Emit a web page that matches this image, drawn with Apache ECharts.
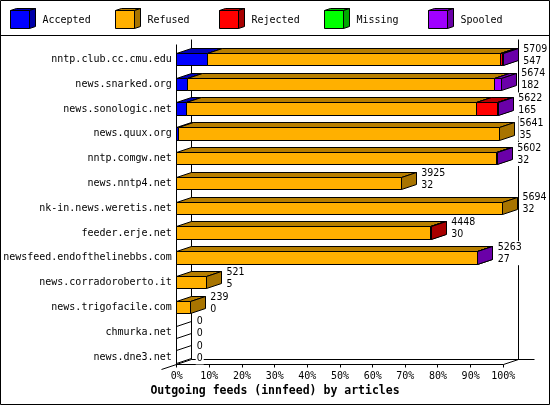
<!DOCTYPE html>
<html lang="en">
  <head>
    <meta charset="UTF-8" />
    <title>innfeed by articles</title>
    <script src="https://cdn.jsdelivr.net/npm/echarts@6/dist/echarts.min.js"></script>
    <style>
      html, body { margin: 0; padding: 0; background: #fff; }
      #chart { width: 550px; height: 405px; }
    </style>
  </head>
  <body>
    <div id="chart"></div>
    <script>
      // feeds, top to bottom
      var categories = [
        'nntp.club.cc.cmu.edu', 'news.snarked.org', 'news.sonologic.net', 'news.quux.org',
        'nntp.comgw.net', 'news.nntp4.net', 'nk-in.news.weretis.net', 'feeder.erje.net',
        'newsfeed.endofthelinebbs.com', 'news.corradoroberto.it', 'news.trigofacile.com',
        'chmurka.net', 'news.dne3.net'
      ];
      // article counts per status
      var accepted = [547, 182, 165, 35, 0, 0, 0, 0, 0, 0, 0, 0, 0];
      var refused = [5117, 5375, 5069, 5606, 5592, 3925, 5694, 4438, 5253, 521, 239, 0, 0];
      var rejected = [35, 0, 378, 0, 0, 0, 0, 10, 0, 0, 0, 0, 0];
      var missing = [0, 0, 0, 0, 0, 0, 0, 0, 0, 0, 0, 0, 0];
      var spooled = [10, 117, 10, 0, 10, 0, 0, 0, 10, 0, 0, 0, 0];
      // the two numbers printed at the end of each bar
      var offeredLabel = [5709, 5674, 5622, 5641, 5602, 3925, 5694, 4448, 5263, 521, 239, 0, 0];
      var acceptedLabel = [547, 182, 165, 35, 32, 32, 32, 30, 27, 5, 0, 0, 0];

      var statusNames = ['Accepted', 'Refused', 'Rejected', 'Missing', 'Spooled'];
      var statusColors = ['#0000ff', '#ffb000', '#ff0000', '#00ff00', '#a000ff'];
      var statusValues = [accepted, refused, rejected, missing, spooled];

      var mono = '"DejaVu Sans Mono", monospace';
      var narrow = '"Liberation Sans Narrow", "DejaVu Sans Condensed", "DejaVu Sans Mono", monospace';
      var DX = 15;
      var DY = 5;
      var maxTotal = Math.max.apply(null, offeredLabel);

      function shade(hex, f) {
        var n = parseInt(hex.slice(1), 16);
        var r = Math.round(((n >> 16) & 255) * f);
        var g = Math.round(((n >> 8) & 255) * f);
        var b = Math.round((n & 255) * f);
        return 'rgb(' + r + ',' + g + ',' + b + ')';
      }
      function snap(v) {
        return Math.round(v - 0.5) + 0.5;
      }
      function ln(x1, y1, x2, y2) {
        return {
          type: 'line',
          shape: { x1: x1, y1: y1, x2: x2, y2: y2 },
          style: { stroke: '#000', lineWidth: 1 }
        };
      }
      function box(x1, x2, yt, yb, color) {
        var edge = { stroke: '#000', lineWidth: 1 };
        return [
          {
            type: 'polygon',
            shape: { points: [[x1, yt], [x2, yt], [x2 + DX, yt - DY], [x1 + DX, yt - DY]] },
            style: Object.assign({ fill: shade(color, 0.72) }, edge)
          },
          {
            type: 'polygon',
            shape: { points: [[x2, yt], [x2, yb], [x2 + DX, yb - DY], [x2 + DX, yt - DY]] },
            style: Object.assign({ fill: shade(color, 0.66) }, edge)
          },
          {
            type: 'rect',
            shape: { x: x1, y: yt, width: x2 - x1, height: yb - yt },
            style: Object.assign({ fill: color }, edge)
          }
        ];
      }

      // stacked segments, as percent of the largest feed
      function segmentData(k) {
        var rows = [];
        for (var i = 0; i < categories.length; i += 1) {
          var start = 0;
          for (var j = 0; j < k; j += 1) start += statusValues[j][i];
          var v = statusValues[k][i];
          if (v > 0) rows.push([(start / maxTotal) * 100, ((start + v) / maxTotal) * 100, i]);
        }
        return rows;
      }

      var chart = echarts.init(document.getElementById('chart'));

      var series = [];

      // 3d frame: front/back walls and floor
      series.push({
        type: 'custom',
        silent: true,
        data: [[0]],
        renderItem: function (params, api) {
          var cs = params.coordSys;
          var x0 = snap(cs.x);
          var x1 = snap(cs.x + cs.width);
          var top = snap(cs.y - 2.4);
          var floor = snap(cs.y + cs.height - 4.8);
          var kids = [
            ln(x0, top, x0, floor),
            ln(x0 + DX, top - DY, x0 + DX, floor - DY),
            ln(x1 + DX, top - DY, x1 + DX, floor - DY),
            ln(x0 + DX, floor - DY, x1 + DX + 16, floor - DY),
            ln(x0, floor, x1, floor),
            ln(x1, floor, x1 + DX, floor - DY),
            ln(x0 - DX, floor + DY, x0 + DX, floor - DY)
          ];
          for (var p = 0; p <= 100; p += 10) {
            var tx = snap(api.coord([p, 0])[0]);
            kids.push(ln(tx, floor, tx, floor + 3));
          }
          return { type: 'group', children: kids };
        }
      });

      statusNames.forEach(function (name, k) {
        series.push({
          name: name,
          type: 'custom',
          encode: { x: [0, 1], y: 2 },
          data: segmentData(k),
          renderItem: function (params, api) {
            var a = api.coord([api.value(0), api.value(2)]);
            var b = api.coord([api.value(1), api.value(2)]);
            var half = api.size([0, 1])[1] * 0.25;
            var yt = snap(a[1] - half);
            var yb = snap(a[1] + half);
            return { type: 'group', children: box(snap(a[0]), snap(b[0]), yt, yb, statusColors[k]) };
          }
        });
      });

      // value labels (offered / accepted) and empty boxes for idle feeds
      series.push({
        type: 'custom',
        silent: true,
        encode: { x: 0, y: 1 },
        data: offeredLabel.map(function (v, i) {
          return [(v / maxTotal) * 100, i];
        }),
        renderItem: function (params, api) {
          var i = params.dataIndex;
          var c = api.coord([api.value(0), api.value(1)]);
          var half = api.size([0, 1])[1] * 0.25;
          var kids = [];
          if (offeredLabel[i] === 0) {
            var x = snap(c[0]);
            var yt = snap(c[1] - half);
            var yb = snap(c[1] + half);
            kids.push(ln(x, yt, x + DX, yt - DY));
            kids.push(ln(x, yb, x + DX, yb - DY));
          }
          kids.push({
            type: 'text',
            x: c[0] + 19,
            y: c[1] - 4.7,
            style: {
              text: offeredLabel[i] + '\n' + acceptedLabel[i],
              font: '10.5px ' + narrow,
              lineHeight: 12,
              fill: '#000',
              align: 'left',
              verticalAlign: 'middle',
              backgroundColor: '#fff',
              padding: [0, 1, 0, 1]
            }
          });
          return { type: 'group', children: kids };
        }
      });

      // legend cubes across the top strip
      var legendGraphics = [];
      statusNames.forEach(function (name, k) {
        var gx = 10 + k * 104.6;
        var c = statusColors[k];
        var edge = { stroke: '#000', lineWidth: 1 };
        legendGraphics.push({
          type: 'group',
          x: Math.round(gx),
          y: 0,
          children: [
            {
              type: 'polygon',
              shape: { points: [[0.5, 10.5], [19.5, 10.5], [25.5, 8.5], [6.5, 8.5]] },
              style: Object.assign({ fill: shade(c, 0.72) }, edge)
            },
            {
              type: 'polygon',
              shape: { points: [[19.5, 10.5], [19.5, 28.5], [25.5, 26.5], [25.5, 8.5]] },
              style: Object.assign({ fill: shade(c, 0.66) }, edge)
            },
            {
              type: 'rect',
              shape: { x: 0.5, y: 10.5, width: 19, height: 18 },
              style: Object.assign({ fill: c }, edge)
            },
            {
              type: 'text',
              x: 32.5,
              y: 20,
              style: { text: name, font: '10px ' + mono, fill: '#000', verticalAlign: 'middle' }
            }
          ]
        });
      });
      legendGraphics.push({
        type: 'line',
        shape: { x1: 0, y1: 35.5, x2: 550, y2: 35.5 },
        style: { stroke: '#000', lineWidth: 1 }
      });
      legendGraphics.push({
        type: 'rect',
        shape: { x: 0.5, y: 0.5, width: 549, height: 404 },
        style: { fill: 'none', stroke: '#000', lineWidth: 1 }
      });

      chart.setOption({
        animation: false,
        backgroundColor: '#fff',
        title: {
          text: 'Outgoing feeds (innfeed) by articles',
          left: 'center',
          top: 385,
          padding: 0,
          textStyle: { fontFamily: mono, fontSize: 11.5, fontWeight: 'bold', color: '#000' }
        },
        grid: { left: 176.7, right: 46.7, top: 47.1, bottom: 35.5 },
        xAxis: {
          type: 'value',
          min: 0,
          max: 100,
          interval: 10,
          axisLine: { show: false },
          axisTick: { show: false },
          splitLine: { show: false },
          axisLabel: { formatter: '{value}%', margin: 2, fontFamily: mono, fontSize: 10, color: '#000' }
        },
        yAxis: {
          type: 'category',
          inverse: true,
          data: categories,
          axisLine: { show: false },
          axisTick: { show: false },
          axisLabel: { margin: 5, fontFamily: mono, fontSize: 10, color: '#000' }
        },
        graphic: legendGraphics,
        series: series
      });
    </script>
  </body>
</html>
